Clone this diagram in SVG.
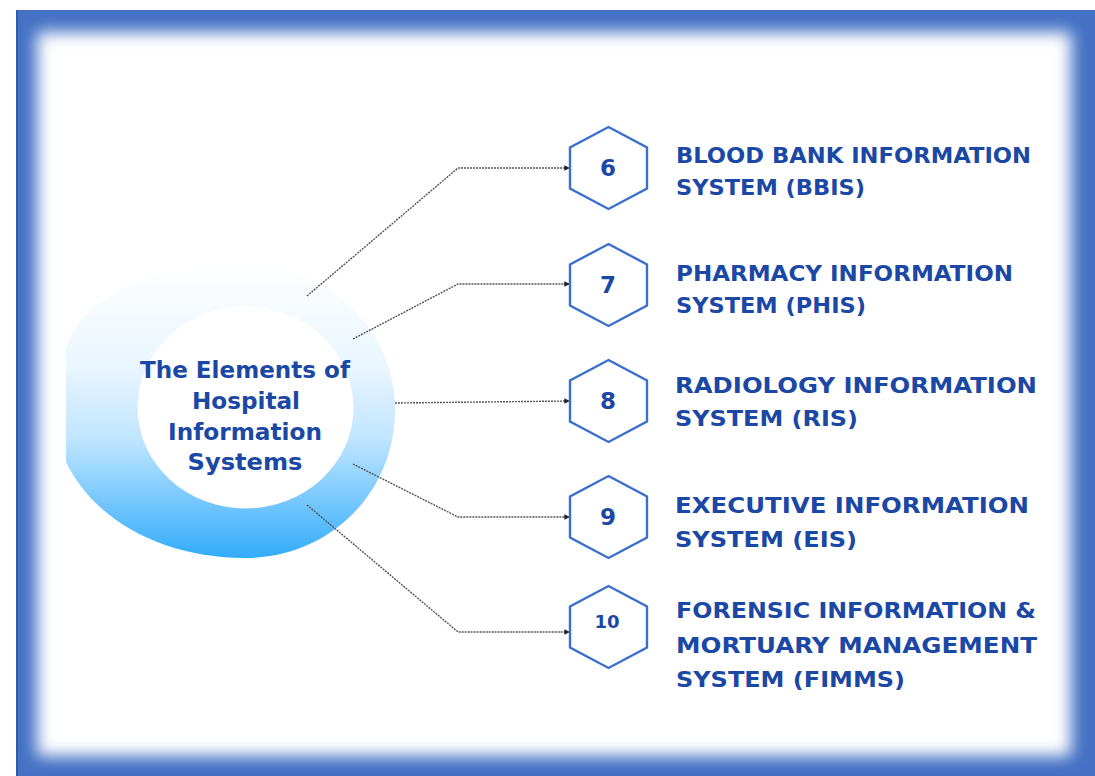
<svg xmlns="http://www.w3.org/2000/svg" width="1095" height="776" viewBox="0 0 1095 776">
  <defs>
    <filter id="soft" x="-5%" y="-5%" width="110%" height="110%">
      <feGaussianBlur stdDeviation="8"/>
    </filter>
    <linearGradient id="ring" x1="0" y1="0" x2="0" y2="1">
      <stop offset="0" stop-color="#ffffff"/>
      <stop offset="0.35" stop-color="#eaf6ff"/>
      <stop offset="0.6" stop-color="#bfe5ff"/>
      <stop offset="1" stop-color="#32acfb"/>
    </linearGradient>
    <marker id="tip" viewBox="0 0 6 6" refX="5" refY="3" markerWidth="4" markerHeight="4" orient="auto">
      <path d="M0,0 L6,3 L0,6 Z" fill="#222"/>
    </marker>
    <style>
      .lbl{font-family:"DejaVu Sans","Liberation Sans",sans-serif;font-weight:700;font-size:21px;fill:#1b47a5;}
      .ctr{font-family:"DejaVu Sans","Liberation Sans",sans-serif;font-weight:700;font-size:23px;fill:#1b47a5;text-anchor:middle;}
      .num{font-family:"DejaVu Sans","Liberation Sans",sans-serif;font-weight:700;font-size:23px;fill:#1b47a5;text-anchor:middle;}
      .hex{fill:#ffffff;stroke:#3b6fcf;stroke-width:2.4;}
      .con{fill:none;stroke:#555;stroke-width:1.4;stroke-dasharray:2 1;marker-end:url(#tip);}
    </style>
  </defs>

  <!-- frame -->
  <rect x="0" y="0" width="1095" height="776" fill="#ffffff"/>
  <rect x="16" y="10" width="1079" height="766" fill="#4471c4"/>
  <line x1="17" y1="10" x2="17" y2="776" stroke="#2f5aa8" stroke-width="2"/>
  <rect x="37" y="32" width="1034" height="724" fill="#ffffff" filter="url(#soft)"/>

  <!-- central element -->
  <g id="center">
    <path d="M 240 262 C 325 262 395 328 395 410 C 395 492 330 558 245 558 C 165 558 95 522 66 462 L 66 348 C 80 300 150 262 240 262 Z" fill="url(#ring)"/>
    <ellipse cx="245.5" cy="407.5" rx="108" ry="101" fill="#ffffff"/>
    <text class="ctr" x="245" y="378" textLength="210" lengthAdjust="spacingAndGlyphs">The Elements of</text>
    <text class="ctr" x="246" y="409" textLength="108" lengthAdjust="spacingAndGlyphs">Hospital</text>
    <text class="ctr" x="245" y="440" textLength="154" lengthAdjust="spacingAndGlyphs">Information</text>
    <text class="ctr" x="245" y="470" textLength="115" lengthAdjust="spacingAndGlyphs">Systems</text>
  </g>

  <!-- connectors -->
  <g id="connectors">
    <polyline class="con" points="307,296 458,168 569,168"/>
    <polyline class="con" points="353,339 458,284 569,284"/>
    <polyline class="con" points="395,403 569,401"/>
    <polyline class="con" points="353,464 458,517 569,517"/>
    <polyline class="con" points="307,505 458,632 569,632"/>
  </g>

  <!-- nodes -->
  <g id="node6">
    <polygon class="hex" points="608.5,127 647,147.5 647,188.5 608.5,209 570,188.5 570,147.5"/>
    <text class="num" x="608" y="176">6</text>
    <text class="lbl" x="676" y="163" textLength="355" lengthAdjust="spacingAndGlyphs">BLOOD BANK INFORMATION</text>
    <text class="lbl" x="676" y="195" textLength="189" lengthAdjust="spacingAndGlyphs">SYSTEM (BBIS)</text>
  </g>
  <g id="node7">
    <polygon class="hex" points="608.5,244 647,264.5 647,305.5 608.5,326 570,305.5 570,264.5"/>
    <text class="num" x="608" y="293">7</text>
    <text class="lbl" x="676" y="281" textLength="337" lengthAdjust="spacingAndGlyphs">PHARMACY INFORMATION</text>
    <text class="lbl" x="676" y="313" textLength="190" lengthAdjust="spacingAndGlyphs">SYSTEM (PHIS)</text>
  </g>
  <g id="node8">
    <polygon class="hex" points="608.5,360 647,380.5 647,421.5 608.5,442 570,421.5 570,380.5"/>
    <text class="num" x="608" y="409">8</text>
    <text class="lbl" x="675" y="393" textLength="362" lengthAdjust="spacingAndGlyphs">RADIOLOGY INFORMATION</text>
    <text class="lbl" x="675" y="426" textLength="183" lengthAdjust="spacingAndGlyphs">SYSTEM (RIS)</text>
  </g>
  <g id="node9">
    <polygon class="hex" points="608.5,476 647,496.5 647,537.5 608.5,558 570,537.5 570,496.5"/>
    <text class="num" x="608" y="525">9</text>
    <text class="lbl" x="675" y="513" textLength="354" lengthAdjust="spacingAndGlyphs">EXECUTIVE INFORMATION</text>
    <text class="lbl" x="675" y="547" textLength="182" lengthAdjust="spacingAndGlyphs">SYSTEM (EIS)</text>
  </g>
  <g id="node10">
    <polygon class="hex" points="608.5,586 647,606.5 647,647.5 608.5,668 570,647.5 570,606.5"/>
    <text class="num" x="607" y="628" style="font-size:18px">10</text>
    <text class="lbl" x="676" y="618" textLength="360" lengthAdjust="spacingAndGlyphs">FORENSIC INFORMATION &amp;</text>
    <text class="lbl" x="676" y="653" textLength="361" lengthAdjust="spacingAndGlyphs">MORTUARY MANAGEMENT</text>
    <text class="lbl" x="676" y="687" textLength="229" lengthAdjust="spacingAndGlyphs">SYSTEM (FIMMS)</text>
  </g>
</svg>
